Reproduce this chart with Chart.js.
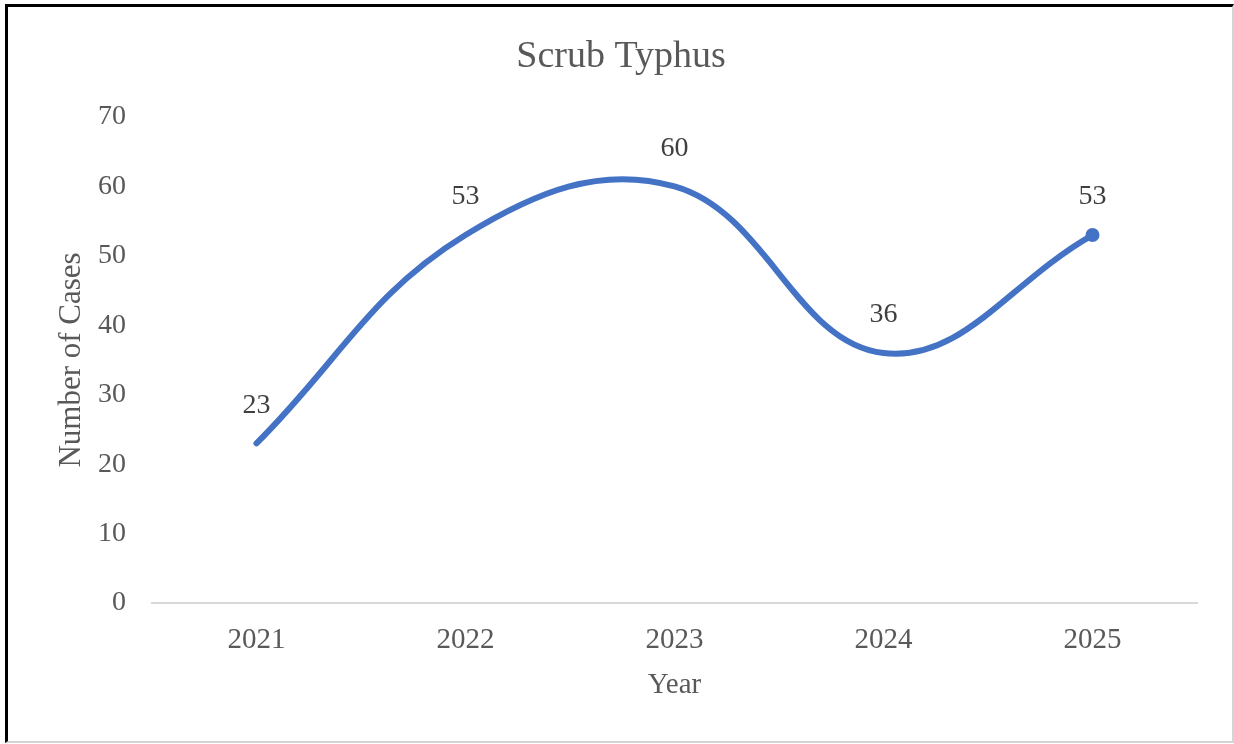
<!DOCTYPE html>
<html>
<head>
<meta charset="utf-8">
<script src="https://cdn.jsdelivr.net/npm/chart.js@4"></script>
<style>
  html, body { margin: 0; padding: 0; background: #fff; width: 1234px; height: 744px; overflow: hidden; }
  #frame { position: absolute; left: 5px; top: 4px; width: 1224px; height: 734px;
           border-top: 3px solid #000; border-left: 3px solid #000;
           border-right: 2px solid #d4d4d4; border-bottom: 2px solid #d4d4d4; }
  #wrap { position: absolute; left: 0; top: 0; width: 1234px; height: 744px; }
</style>
</head>
<body>
<div id="frame"></div>
<div id="wrap"><canvas id="c" width="1234" height="744"></canvas></div>
<script>
const years = ['2021', '2022', '2023', '2024', '2025'];
const cases = [23, 53, 60, 36, 53];
const yTicks = [0, 10, 20, 30, 40, 50, 60, 70];
const chartTitle = 'Scrub Typhus';
const xTitle = 'Year';
const yTitle = 'Number of Cases';

const SERIF = '"Liberation Serif", "Times New Roman", serif';

const dataLabels = {
  id: 'dataLabels',
  afterDatasetsDraw(chart) {
    const ctx = chart.ctx;
    const meta = chart.getDatasetMeta(0);
    ctx.save();
    ctx.font = '28px ' + SERIF;
    ctx.fillStyle = '#404040';
    ctx.textAlign = 'center';
    ctx.textBaseline = 'middle';
    meta.data.forEach((pt, i) => {
      ctx.fillText(String(chart.data.datasets[0].data[i]), pt.x, pt.y - 38);
    });
    ctx.restore();
  }
};

const titleDraw = {
  id: 'titleDraw',
  afterDraw(chart) {
    const ctx = chart.ctx;
    ctx.save();
    ctx.font = '38px ' + SERIF;
    ctx.fillStyle = '#595959';
    ctx.textAlign = 'center';
    ctx.textBaseline = 'middle';
    ctx.fillText(chartTitle, chart.width / 2 + 4, 57);
    ctx.restore();
  }
};

new Chart(document.getElementById('c'), {
  type: 'line',
  data: {
    labels: years,
    datasets: [{
      data: cases,
      borderColor: '#4472C4',
      backgroundColor: '#4472C4',
      borderWidth: 6,
      tension: 0.4,
      borderCapStyle: 'round',
      pointRadius: cases.map((v, i) => i === cases.length - 1 ? 7 : 0),
      pointHoverRadius: 7,
      pointBackgroundColor: '#4472C4',
      pointBorderWidth: 0,
      fill: false
    }]
  },
  options: {
    responsive: false,
    animation: false,
    devicePixelRatio: 1,
    layout: { padding: { left: 10, right: 37, top: 117, bottom: 10 } },
    plugins: {
      legend: { display: false },
      tooltip: { enabled: false },
      title: { display: false }
    },
    scales: {
      x: {
        offset: true,
        grid: { display: false, drawTicks: false },
        border: { display: true, color: '#d9d9d9', width: 2 },
        ticks: { color: '#595959', padding: 20, font: { family: SERIF, size: 29 } },
        title: {
          display: true, text: xTitle, color: '#595959',
          font: { family: SERIF, size: 29, lineHeight: 1.2 },
          padding: { top: 0, bottom: 31 }
        },
        afterFit(scale) { scale.height = 131; }
      },
      y: {
        min: 0, max: 70,
        afterBuildTicks(scale) { scale.ticks = yTicks.map(v => ({ value: v })); },
        grid: { display: false, drawTicks: false },
        border: { display: false },
        ticks: { color: '#595959', padding: 26, font: { family: SERIF, size: 28 } },
        title: {
          display: true, text: yTitle, color: '#595959',
          font: { family: SERIF, size: 31, lineHeight: 1.2 },
          padding: { top: 43, bottom: 0 }
        },
        afterFit(scale) { scale.width = 142; }
      }
    }
  },
  plugins: [dataLabels, titleDraw]
});
</script>
</body>
</html>
